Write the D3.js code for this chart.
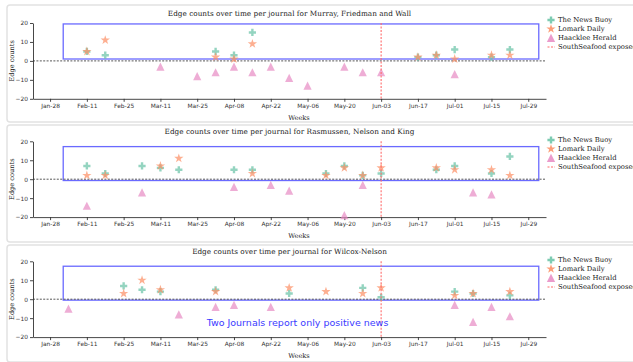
<!DOCTYPE html>
<html><head><meta charset="utf-8">
<script src="https://cdn.jsdelivr.net/npm/d3@7"></script>
<style>body{margin:0;background:#fff}svg{display:block}</style>
</head><body>
<svg id="c" width="633" height="362"></svg>
<script>
// ---------- data ----------
const panelNames = ["Murray, Friedman and Wall", "Rasmussen, Nelson and King", "Wilcox-Nelson"];
const seriesNames = ["The News Buoy", "Lomark Daily", "Haacklee Herald"];
const eventLabel = "SouthSeafood exposed";
const eventWeek = "Jun-03";
const tickWeeks = ["Jan-28","Feb-11","Feb-25","Mar-11","Mar-25","Apr-08","Apr-22","May-06","May-20","Jun-03","Jun-17","Jul-01","Jul-15","Jul-29"];
const xDomain = ["Jan-21 12:00", "Aug-04 18:00"];
const yDomain = [-20, 20];
const yTicks = [-20, -10, 0, 10, 20];
const boxWeeks = ["Feb-02", "Aug-02"];
const boxRanges = [[1, 19.5], [-0.7, 17.2], [-0.5, 17.4]];
const annotation = "Two Journals report only positive news";

// panel 1
const buoy1 = [["Feb-11",5],["Feb-18",3],["Apr-01",5],["Apr-08",3],["Apr-15",15],["Jun-17",2],["Jun-24",3],["Jul-01",6],["Jul-15",2],["Jul-22",6]];
const lomark1 = [["Feb-11",5],["Feb-18",11],["Apr-01",2],["Apr-08",1],["Apr-15",9],["Jun-17",2],["Jun-24",3],["Jul-01",1],["Jul-15",3],["Jul-22",3]];
const haack1 = [["Mar-11",-3],["Mar-25",-8],["Apr-01",-6],["Apr-08",-3],["Apr-15",-6],["Apr-22",-3],["Apr-29",-9],["May-06",-13],["May-20",-3],["May-27",-6],["Jun-03",-6],["Jul-01",-7]];
// panel 2
const buoy2 = [["Feb-11",7],["Feb-18",3],["Mar-04",7],["Mar-11",6],["Mar-18",5],["Apr-08",5],["Apr-15",5],["May-13",3],["May-20",7],["May-27",2],["Jun-03",3],["Jun-24",5],["Jul-01",7],["Jul-15",3],["Jul-22",12]];
const lomark2 = [["Feb-11",2],["Feb-18",2],["Mar-11",7],["Mar-18",11],["Apr-15",3],["May-13",2],["May-20",6],["May-27",2],["Jun-03",6],["Jun-24",6],["Jul-01",5],["Jul-15",5],["Jul-22",2]];
const haack2 = [["Feb-11",-14],["Mar-04",-7],["Apr-08",-4],["Apr-22",-3],["Apr-29",-6],["May-20",-19],["May-27",-3],["Jul-08",-7],["Jul-15",-8]];
// panel 3
const buoy3 = [["Feb-25",7],["Mar-04",5],["Mar-11",4],["Apr-01",5],["Apr-29",3],["May-27",6],["Jun-03",1],["Jul-01",4],["Jul-08",3],["Jul-22",2]];
const lomark3 = [["Feb-25",3],["Mar-04",10],["Mar-11",5],["Apr-01",4],["Apr-29",6],["May-13",4],["May-27",3],["Jun-03",6],["Jul-01",2],["Jul-08",3],["Jul-22",4]];
const haack3 = [["Feb-04",-5],["Mar-18",-8],["Apr-01",-4],["Apr-08",-3],["Apr-22",-4],["Jul-01",-3],["Jul-08",-12],["Jul-15",-4],["Jul-22",-9]];

const panelSeries = [[buoy1, lomark1, haack1], [buoy2, lomark2, haack2], [buoy3, lomark3, haack3]];

// ---------- layout / style ----------
const colors = ["#66c2a5", "#fc8d62", "#e78ac3"];
const panelTops = [5, 125, 245];
const plotTops = [23, 141.3, 261.3];
const plotH = 75.8;
const left = 33, right = 546;

const parseW = d3.timeParse("%b-%d");
const parseWH = d3.timeParse("%b-%d %H:%M");
const fmt = d3.timeFormat("%b-%d");

function plusPath(s){ const h=s/2, a=s/6;
  return `M${-a},${-h}H${a}V${-a}H${h}V${a}H${a}V${h}H${-a}V${a}H${-h}V${-a}H${-a}Z`; }
function starPath(r){ const ri=r*0.382; let p="";
  for(let i=0;i<10;i++){ const rr=i%2?ri:r; const ang=-Math.PI/2+i*Math.PI/5;
    p+=(i?"L":"M")+(rr*Math.cos(ang)).toFixed(2)+","+(rr*Math.sin(ang)).toFixed(2);}
  return p+"Z"; }
function triPath(s){ const h=s/2; return `M0,${-h}L${h},${h}L${-h},${h}Z`; }
const shapes = [plusPath(7.2), starPath(4.9), triPath(8.2)];

const svg = d3.select("#c");
const x = d3.scaleTime().domain(xDomain.map(parseWH)).range([left, right]);

panelSeries.forEach((series, pi) => {
  const pt = panelTops[pi];
  const top = plotTops[pi], bottom = top + plotH;
  const y = d3.scaleLinear().domain(yDomain).range([bottom, top]);
  const g = svg.append("g");

  g.append("rect").attr("x", 7).attr("y", pt).attr("width", 640).attr("height", 117)
    .attr("rx", 3).attr("fill", "none").attr("stroke", "#e2e2e2").attr("stroke-width", 1.5);

  // title
  g.append("text").attr("x", (left + right) / 2).attr("y", top - 7.5)
    .attr("text-anchor", "middle").attr("font-family", "DejaVu Serif").attr("font-size", 7.3)
    .attr("fill", "#222").text("Edge counts over time per journal for " + panelNames[pi]);

  // highlight box
  const br = boxRanges[pi];
  g.append("rect").attr("x", x(parseW(boxWeeks[0]))).attr("y", y(br[1]))
    .attr("width", x(parseW(boxWeeks[1])) - x(parseW(boxWeeks[0])))
    .attr("height", y(br[0]) - y(br[1]))
    .attr("fill", "none").attr("stroke", "#6a6aff").attr("stroke-width", 1.3);

  // zero line
  g.append("line").attr("x1", left).attr("x2", right).attr("y1", y(0)).attr("y2", y(0))
    .attr("stroke", "#444").attr("stroke-width", 0.9).attr("stroke-dasharray", "2,1.4");

  // axes
  const ax = g.append("g").attr("transform", `translate(0,${bottom})`)
    .call(d3.axisBottom(x).tickValues(tickWeeks.map(parseW)).tickFormat(fmt).tickSize(3).tickSizeOuter(0).tickPadding(2));
  const ay = g.append("g").attr("transform", `translate(${left},0)`)
    .call(d3.axisLeft(y).tickValues(yTicks).tickFormat(d => d < 0 ? "\u2212" + Math.abs(d) : d).tickSize(3).tickSizeOuter(0).tickPadding(2));
  [ax, ay].forEach(a => {
    a.selectAll("text").attr("font-family", "DejaVu Sans").attr("font-size", 5.9).attr("fill", "#333");
    a.selectAll("line,path").attr("stroke", "#333").attr("stroke-width", 0.9);
  });

  // points
  series.forEach((data, si) => {
    g.append("g").selectAll("path").data(data).join("path")
      .attr("transform", d => `translate(${x(parseW(d[0]))},${y(d[1])})`)
      .attr("d", shapes[si]).attr("fill", colors[si]).attr("fill-opacity", 0.7);
  });

  // event line
  g.append("line").attr("x1", x(parseW(eventWeek))).attr("x2", x(parseW(eventWeek)))
    .attr("y1", top).attr("y2", bottom)
    .attr("stroke", "#ff6b6b").attr("stroke-width", 1.1).attr("stroke-dasharray", "2,1.5");

  // labels
  g.append("text").attr("transform", `translate(12,${(top + bottom) / 2}) rotate(-90)`)
    .attr("text-anchor", "middle").attr("dy", "0.35em").attr("font-family", "DejaVu Serif").attr("font-size", 6.6)
    .attr("fill", "#222").text("Edge counts");
  g.append("text").attr("x", 299).attr("y", bottom + 21).attr("text-anchor", "middle")
    .attr("font-family", "DejaVu Serif").attr("font-size", 6.6).attr("fill", "#222").text("Weeks");

  // legend
  const lg = g.append("g").attr("transform", `translate(551,${pt + 15})`);
  seriesNames.forEach((n, si) => {
    lg.append("path").attr("transform", `translate(0,${si * 8.9})`).attr("d", shapes[si])
      .attr("fill", colors[si]).attr("fill-opacity", 0.85);
    lg.append("text").attr("x", 7).attr("y", si * 8.9).attr("dy", "0.35em")
      .attr("font-family", "DejaVu Serif").attr("font-size", 6.85).attr("fill", "#222").text(n);
  });
  lg.append("line").attr("x1", -3.5).attr("x2", 4).attr("y1", 27).attr("y2", 27)
    .attr("stroke", "#ff6b6b").attr("stroke-width", 1.1).attr("stroke-dasharray", "2,1.5");
  lg.append("text").attr("x", 7).attr("y", 27).attr("dy", "0.35em")
    .attr("font-family", "DejaVu Serif").attr("font-size", 6.85).attr("fill", "#222").text(eventLabel);

  if (pi === 2) {
    g.append("text").attr("x", 297.5).attr("y", 325.8).attr("text-anchor", "middle")
      .attr("font-family", "DejaVu Sans").attr("font-size", 9.5).attr("fill", "#3a3aff").text(annotation);
  }
});
</script>
</body></html>
